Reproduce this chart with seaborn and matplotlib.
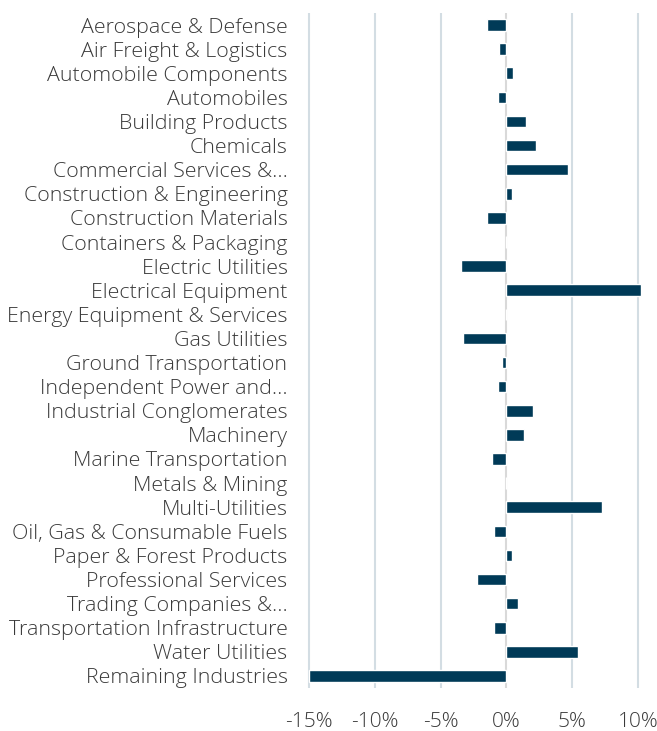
import matplotlib
matplotlib.use("Agg")
import matplotlib.pyplot as plt
import seaborn as sns
import pandas as pd

# industries, top to bottom
industries = [
    "Aerospace & Defense", "Air Freight & Logistics", "Automobile Components",
    "Automobiles", "Building Products", "Chemicals", "Commercial Services &...",
    "Construction & Engineering", "Construction Materials", "Containers & Packaging",
    "Electric Utilities", "Electrical Equipment", "Energy Equipment & Services",
    "Gas Utilities", "Ground Transportation", "Independent Power and...",
    "Industrial Conglomerates", "Machinery", "Marine Transportation",
    "Metals & Mining", "Multi-Utilities", "Oil, Gas & Consumable Fuels",
    "Paper & Forest Products", "Professional Services", "Trading Companies &...",
    "Transportation Infrastructure", "Water Utilities", "Remaining Industries",
]
# relative weight, percent
values = [
    -1.47, -0.58, 0.48, -0.68, 1.47, 2.26, 4.69,
    0.43, -1.47, 0.0, -3.48, 10.2, -0.03,
    -3.32, -0.33, -0.61, 2.03, 1.32, -1.07,
    -0.06, 7.25, -0.96, 0.43, -2.21, 0.86,
    -0.96, 5.40, -15.0,
]
x_ticks = [-15, -10, -5, 0, 5, 10]
x_ticklabels = ["-15%", "-10%", "-5%", "0%", "5%", "10%"]

df = pd.DataFrame({"industry": industries, "value": values})

sns.set_style("white")
plt.rcParams["font.family"] = ["Open Sans", "DejaVu Sans"]

fig = plt.figure(figsize=(6.57, 7.31), dpi=100)
ax = fig.add_axes([300 / 657, 1 - 688 / 731, 350 / 657, 675 / 731])

sns.barplot(data=df, x="value", y="industry", orient="h", color="#003a57",
            saturation=1, width=0.48, ax=ax)

ax.set_xlim(-15.68, 10.9)
ax.set_ylim(len(industries) - 0.5, -0.5)
ax.set_xticks(x_ticks)
ax.set_xticklabels(x_ticklabels)
ax.set_xlabel("")
ax.set_ylabel("")

for x in x_ticks:
    ax.axvline(x, color="#d9d9d9" if x == 0 else "#d3dde3", lw=1.5, zorder=0)

for s in ax.spines.values():
    s.set_visible(False)
ax.tick_params(axis="both", length=0, labelcolor="#3a3a3a")
ax.tick_params(axis="x", pad=17, labelsize=15)
ax.tick_params(axis="y", pad=9, labelsize=15.4)
for lab in ax.get_xticklabels() + ax.get_yticklabels():
    lab.set_fontweight("light")

fig.savefig("out.png", dpi=100)
